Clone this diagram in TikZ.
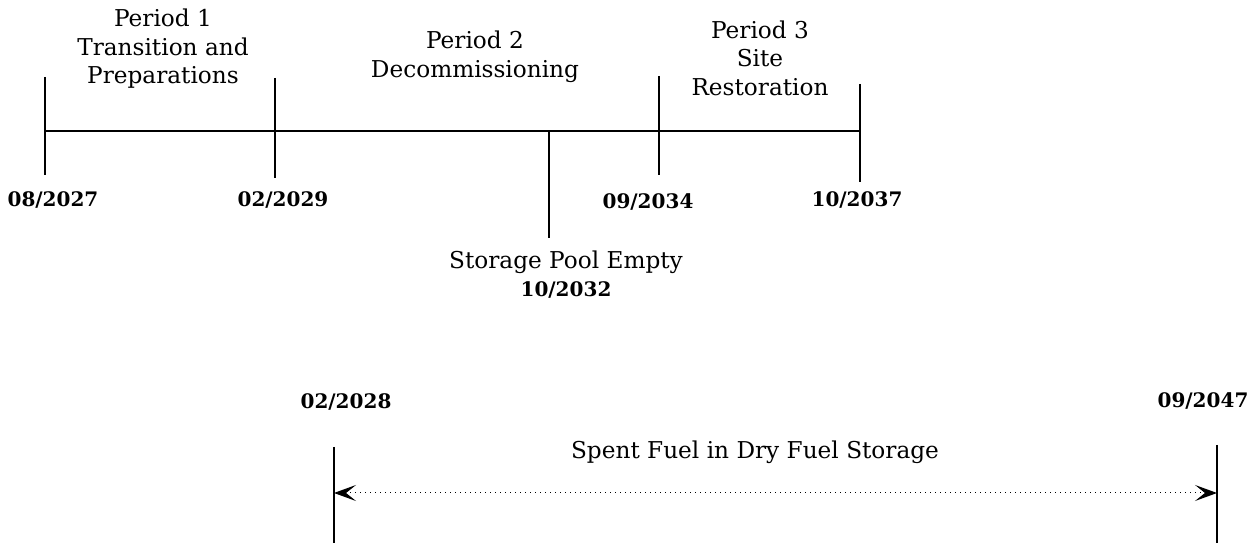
\documentclass[tikz,border=0pt]{standalone}
\usepackage{fontspec}
\setmainfont{DejaVu Serif}
\usetikzlibrary{arrows.meta}
\tikzset{
  tick/.style={line width=1pt},
  axis/.style={line width=0.9pt},
  lbl/.style={font=\fontsize{11.6}{14.3}\selectfont, align=center, inner sep=0pt},
  date/.style={font=\fontsize{10}{14.3}\selectfont\bfseries, inner sep=0pt},
  plain/.style={font=\fontsize{11.6}{14.3}\selectfont, inner sep=0pt},
  span/.style={line width=0.5pt, dotted, {Stealth[length=11pt,width=8pt,inset=5pt]}-{Stealth[length=11pt,width=8pt,inset=5pt]}}
}
\begin{document}
\begin{tikzpicture}[x=0.5pt,y=-0.5pt]
\useasboundingbox (0,0) rectangle (1260,544);
% timeline coordinates
\coordinate (a0) at (45,131);
\coordinate (a1) at (860,131);
\coordinate (t1a) at (45,77);  \coordinate (t1b) at (45,175);
\coordinate (t2a) at (275,78); \coordinate (t2b) at (275,178);
\coordinate (t3a) at (549,131); \coordinate (t3b) at (549,238);
\coordinate (t4a) at (659,76); \coordinate (t4b) at (659,175);
\coordinate (t5a) at (860,84); \coordinate (t5b) at (860,182);
\draw[axis] (a0) -- (a1);
\draw[tick] (t1a) -- (t1b);
\draw[tick] (t2a) -- (t2b);
\draw[tick] (t3a) -- (t3b);
\draw[tick] (t4a) -- (t4b);
\draw[tick] (t5a) -- (t5b);
% period labels
\node[lbl] (p1) at (163,49) {Period 1\\Transition and\\Preparations};
\node[lbl] (p2) at (475,57) {Period 2\\Decommissioning};
\node[lbl] (p3) at (760,58) {Period 3\\Site\\Restoration};
% dates
\node[date] (d1) at (53,200) {08/2027};
\node[date] (d2) at (283,200) {02/2029};
\node[date] (d3) at (648,202) {09/2034};
\node[date] (d4) at (857,200) {10/2037};
\node[lbl] (sp) at (566,262) {Storage Pool Empty};
\node[date] (d5) at (566,290) {10/2032};
% dry storage
\node[date] (d6) at (346,402) {02/2028};
\node[date] (d7) at (1203,401) {09/2047};
\node[plain] (sf) at (755,452) {Spent Fuel in Dry Fuel Storage};
\coordinate (b1a) at (334,447); \coordinate (b1b) at (334,543);
\coordinate (b2a) at (1217,445); \coordinate (b2b) at (1217,543);
\coordinate (l) at (334,493); \coordinate (r) at (1217,493);
\draw[tick] (b1a) -- (b1b);
\draw[tick] (b2a) -- (b2b);
\draw[span] (l) -- (r);
\end{tikzpicture}
\end{document}
